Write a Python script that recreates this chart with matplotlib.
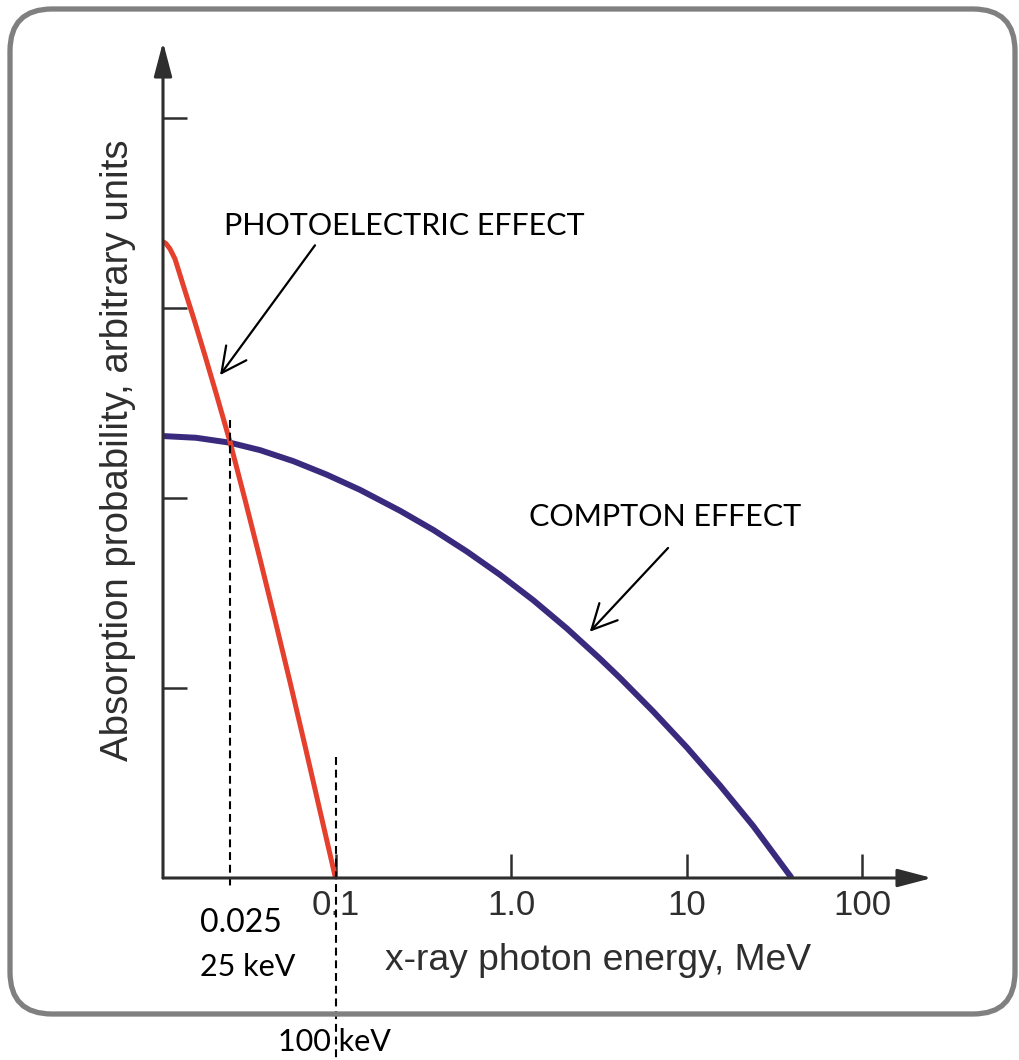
import matplotlib.pyplot as plt
from matplotlib.patches import FancyBboxPatch
from matplotlib.transforms import IdentityTransform

# absorption curves, energy in MeV, probability in arbitrary units
photo_energy = [0.01040, 0.01082, 0.01140, 0.01218, 0.01389, 0.01583, 0.01805,
                0.02112, 0.02506, 0.03051, 0.03714, 0.04521, 0.05505, 0.06702,
                0.08161, 0.1]
photo_prob = [3.349, 3.339, 3.311, 3.258, 3.089, 2.923, 2.749,
              2.535, 2.295, 1.991, 1.679, 1.359, 1.032, 0.696,
              0.353, 0.0]

compton_energy = [0.01040, 0.01604, 0.02506, 0.03714, 0.05748, 0.08910, 0.1379,
                  0.2331, 0.3608, 0.5592, 0.8655, 1.340, 2.077, 3.215, 4.180,
                  6.469, 10.03, 15.52, 24.03, 39.76]
compton_prob = [2.326, 2.317, 2.291, 2.252, 2.194, 2.123, 2.043,
                1.933, 1.832, 1.719, 1.596, 1.462, 1.314, 1.154, 1.053,
                0.876, 0.688, 0.487, 0.273, 0.0]

tick_energy = [0.1, 1, 10, 100]
tick_labels = ['0.1', '1.0', '10', '100']
prob_ticks = [1, 2, 3, 4]
crossover = 0.025   # MeV, where the two curves meet
pe_end = 0.1        # MeV, photoelectric drops to zero

W, H = 1019, 1060
fig = plt.figure(figsize=(W / 100, H / 100), dpi=100)

# axes box placed in pixels: x axis at y=878, y axis at x=163
left, right, bottom, top = 163, 932, 878, 42
ax = fig.add_axes([left / W, 1 - bottom / H, (right - left) / W, (bottom - top) / H])
ax.set_xscale('log')
ax.set_xlim(10 ** (-1 - (335.5 - left) / 175.5), 10 ** (-1 + (right - 335.5) / 175.5))
ax.set_ylim(0, (bottom - top) / 190)

axis_col = '#2e2e2e'
for s in ax.spines.values():
    s.set_visible(False)
arrow = dict(arrowstyle='-|>,head_length=0.95,head_width=0.25', color=axis_col,
             lw=2.2, mutation_scale=22, shrinkA=0, shrinkB=0)
ax.annotate('', xy=(0, 1), xytext=(0, 0), xycoords='axes fraction', arrowprops=arrow)
ax.annotate('', xy=(1, 0), xytext=(0, 0), xycoords='axes fraction', arrowprops=arrow)

ax.set_xticks(tick_energy)
ax.set_xticklabels(tick_labels, family='Liberation Sans', fontsize=25, color=axis_col)
ax.xaxis.set_minor_locator(plt.NullLocator())
ax.set_yticks(prob_ticks)
ax.set_yticklabels([])
ax.tick_params(axis='both', direction='in', length=17, width=1.8, color=axis_col)
ax.tick_params(axis='x', pad=8)

ax.plot(compton_energy, compton_prob, color='#3a2a7e', lw=4.3,
        solid_capstyle='butt', solid_joinstyle='round')
ax.plot(photo_energy, photo_prob, color='#e5402d', lw=3.6,
        solid_capstyle='butt', solid_joinstyle='round')

# dashed markers for 25 keV and 100 keV
dash = dict(color='black', lw=1.5, ls=(0, (3.8, 2.3)), clip_on=False)
ax.plot([crossover, crossover], [2.41, -0.053], **dash)
ax.plot([pe_end, pe_end], [0.637, -0.96], **dash)

note = dict(family='Lato', fontsize=22, color='black')
head = dict(arrowstyle='->,head_length=0.9,head_width=0.45', color='black',
            lw=1.6, mutation_scale=20, shrinkA=0, shrinkB=0)
ax.text(0.2457, 3.43, 'PHOTOELECTRIC EFFECT', ha='center', va='center', **note)
ax.annotate('', xy=(0.02198, 2.647), xytext=(0.0764, 3.33), arrowprops=head)
ax.text(7.54, 1.90, 'COMPTON EFFECT', ha='center', va='center', **note)
ax.annotate('', xy=(2.81, 1.296), xytext=(7.85, 1.737), arrowprops=head)


def px(x, y):
    return x / W, 1 - y / H


fig.text(*px(200, 923), '0.025', ha='left', va='center', family='Lato',
         fontsize=23, color='black')
fig.text(*px(200, 967), '25 keV', ha='left', va='center', **note)
fig.text(*px(278, 1042), '100 keV', ha='left', va='center', **note)

fig.text(*px(598, 970), 'x-ray photon energy, MeV', ha='center', va='baseline',
         family='Liberation Sans', fontsize=26.8, color=axis_col)
fig.text(*px(118, 450), 'Absorption probability, arbitrary units',
         ha='center', va='center', rotation=90,
         family='Liberation Sans', fontsize=27.6, color=axis_col)

# rounded frame around the chart
frame = FancyBboxPatch((10, H - 1014), 1005, 1005,
                       boxstyle='round,pad=0,rounding_size=42',
                       transform=IdentityTransform(), fill=False,
                       ec='#808080', lw=3.8)
fig.patches.append(frame)

fig.savefig('out.png', dpi=100)
